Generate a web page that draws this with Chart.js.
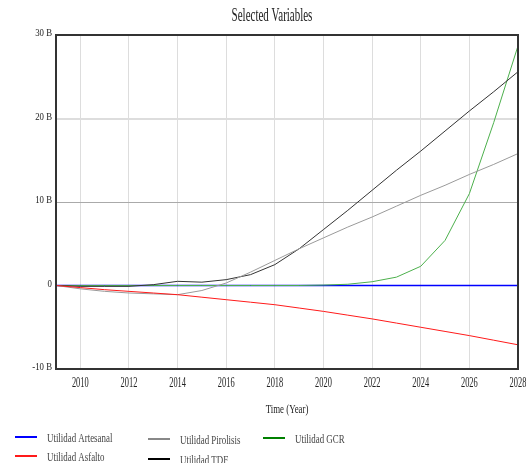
<!DOCTYPE html>
<html lang="en">
<head>
<meta charset="UTF-8">
<title>Selected Variables</title>
<script src="https://cdn.jsdelivr.net/npm/chart.js"></script>
<style>
    body { margin: 0; background: #fff; }
    #wrap { width: 526px; height: 463px; position: relative; }
</style>
</head>
<body>
<div id="wrap"><canvas id="chart"></canvas></div>
<script>
    // data (billions)
    const years = [2009, 2010, 2011, 2012, 2013, 2014, 2015, 2016, 2017, 2018,
                   2019, 2020, 2021, 2022, 2023, 2024, 2025, 2026, 2027, 2028];
    const artesanal = [0, 0, 0, 0, 0, 0, 0, 0, 0, 0, 0, 0, 0, 0, 0, 0, 0, 0, 0, 0];
    const asfalto = [0, -0.25, -0.5, -0.7, -0.9, -1.1, -1.4, -1.7, -2.0, -2.3,
                     -2.7, -3.1, -3.55, -4.0, -4.5, -5.0, -5.5, -6.0, -6.55, -7.1];
    const pirolisis = [0, -0.4, -0.7, -0.9, -1.0, -1.1, -0.6, 0.3, 1.6, 3.0,
                       4.4, 5.7, 7.0, 8.2, 9.5, 10.8, 12.0, 13.3, 14.5, 15.8];
    const tdf = [0, -0.1, -0.1, -0.1, 0.1, 0.5, 0.4, 0.7, 1.3, 2.5,
                 4.4, 6.7, 9.0, 11.4, 13.8, 16.1, 18.5, 20.9, 23.2, 25.6];
    const gcr = [0, 0, 0, 0, 0, 0, 0, 0, 0, 0,
                 0, 0.05, 0.15, 0.45, 1.0, 2.3, 5.4, 11.0, 19.5, 28.7];
    const xTicks = [2010, 2012, 2014, 2016, 2018, 2020, 2022, 2024, 2026, 2028];
    const yTickLabels = { '30': '30 B', '20': '20 B', '10': '10 B', '0': '0', '-10': '-10 B' };

    const serif = '"Liberation Serif", "DejaVu Serif", serif';

    function pts(arr) {
        return arr.map((v, i) => ({ x: years[i], y: v }));
    }

    function line(label, arr, color, legendColor, width) {
        return {
            label: label,
            data: pts(arr),
            borderColor: color,
            legendColor: legendColor || color,
            borderWidth: width || 1,
            pointRadius: 0,
            tension: 0,
            fill: false
        };
    }

    // order drawn: later datasets on top
    const datasets = [
        line('Utilidad Asfalto', asfalto, '#ff1a1a'),
        line('Utilidad Pirolisis', pirolisis, '#9a9a9a', '#888888'),
        line('Utilidad TDF', tdf, '#333333', '#000000'),
        line('Utilidad GCR', gcr, '#4cb04c', '#008000'),
        line('Utilidad Artesanal', artesanal, '#0000ff', '#0000ff', 1.5)
    ];

    // legend layout like the original (three columns)
    const legendSlots = {
        'Utilidad Artesanal': [15, 437],
        'Utilidad Asfalto': [15, 456],
        'Utilidad Pirolisis': [148, 439],
        'Utilidad TDF': [148, 459],
        'Utilidad GCR': [263, 438]
    };

    // the source picture has narrow, tall lettering
    function txt(ctx, s, x, y, size, sx, align) {
        ctx.save();
        ctx.translate(x, y);
        ctx.scale(sx, 1);
        ctx.font = size + 'px ' + serif;
        ctx.textAlign = align;
        ctx.textBaseline = 'alphabetic';
        ctx.fillText(s, 0, 0);
        ctx.restore();
    }

    const decor = {
        id: 'decor',
        afterDraw(chart) {
            const ctx = chart.ctx;
            const a = chart.chartArea;
            const xs = chart.scales.x, ys = chart.scales.y;
            ctx.save();
            // frame
            ctx.strokeStyle = '#333';
            ctx.lineWidth = 2;
            ctx.strokeRect(a.left, a.top, a.right - a.left, a.bottom - a.top);
            ctx.fillStyle = '#222';
            // title
            txt(ctx, 'Selected Variables', 272, 21, 18, 0.61, 'center');
            // tick labels
            xs.ticks.forEach(t => {
                txt(ctx, String(t.value), xs.getPixelForValue(t.value), 387, 14, 0.6, 'center');
            });
            ys.ticks.forEach(t => {
                txt(ctx, yTickLabels[String(t.value)], 52, ys.getPixelForValue(t.value) + 1, 11, 0.8, 'right');
            });
            // axis title
            txt(ctx, 'Time (Year)', (a.left + a.right) / 2, 413, 13, 0.68, 'center');
            // legend
            chart.data.datasets.forEach(ds => {
                const p = legendSlots[ds.label];
                ctx.strokeStyle = ds.legendColor;
                ctx.lineWidth = 2;
                ctx.beginPath();
                ctx.moveTo(p[0], p[1]);
                ctx.lineTo(p[0] + 22, p[1]);
                ctx.stroke();
                ctx.fillStyle = '#444';
                txt(ctx, ds.label, p[0] + 32, p[1] + 5, 12, 0.74, 'left');
            });
            ctx.restore();
        }
    };

    new Chart(document.getElementById('chart'), {
        type: 'line',
        data: { datasets: datasets },
        plugins: [decor],
        options: {
            responsive: true,
            maintainAspectRatio: false,
            animation: false,
            layout: { padding: { top: 35, right: 8, bottom: 44, left: 0 } },
            plugins: {
                legend: { display: false },
                title: { display: false },
                tooltip: { enabled: false }
            },
            scales: {
                x: {
                    type: 'linear',
                    min: 2009,
                    max: 2028,
                    afterBuildTicks: scale => {
                        scale.ticks = xTicks.map(v => ({ value: v }));
                    },
                    afterFit: scale => {
                        scale.height = 50;
                        scale.paddingLeft = 0;
                        scale.paddingRight = 0;
                    },
                    ticks: { display: false, autoSkip: false },
                    grid: { color: '#dddddd', lineWidth: 1, drawTicks: false },
                    border: { display: false }
                },
                y: {
                    min: -10,
                    max: 30,
                    afterFit: scale => {
                        scale.width = 56;
                        scale.paddingTop = 0;
                        scale.paddingBottom = 0;
                    },
                    ticks: { display: false, stepSize: 10 },
                    grid: {
                        drawTicks: false,
                        color: c => c.tick && c.tick.value === 10 ? '#aaaaaa' : '#dddddd',
                        lineWidth: c => c.tick && c.tick.value === 20 ? 2 : 1
                    },
                    border: { display: false }
                }
            }
        }
    });
</script>
</body>
</html>
